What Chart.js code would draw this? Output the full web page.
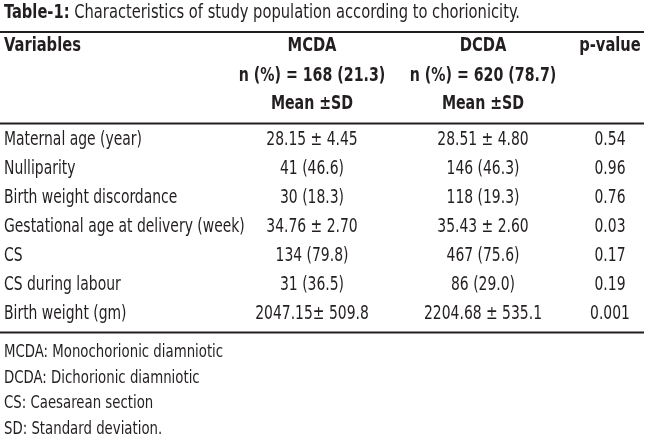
<!DOCTYPE html>
<html>
<head>
<meta charset="utf-8">
<script src="https://cdn.jsdelivr.net/npm/chart.js@4"></script>
<style>
  html, body { margin: 0; padding: 0; background: #fff; }
  #wrap { width: 650px; height: 443px; }
</style>
</head>
<body>
<div id="wrap"><canvas id="chart" width="650" height="443"></canvas></div>
<script>
"use strict"

// table content
const titleBold = "Table-1:";
const titleText = " Characteristics of study population according to chorionicity.";
const columnHeads = ["Variables", "MCDA", "DCDA", "p-value"];
const mcdaSub = ["n (%) = 168 (21.3)", "Mean \u00B1SD"];
const dcdaSub = ["n (%) = 620 (78.7)", "Mean \u00B1SD"];

const variables = [
    "Maternal age (year)",
    "Nulliparity",
    "Birth weight discordance",
    "Gestational age at delivery (week)",
    "CS",
    "CS during labour",
    "Birth weight (gm)"
];
const mcdaValues = ["28.15 \u00B1 4.45", "41 (46.6)", "30 (18.3)", "34.76 \u00B1 2.70", "134 (79.8)", "31 (36.5)", "2047.15\u00B1 509.8"];
const dcdaValues = ["28.51 \u00B1 4.80", "146 (46.3)", "118 (19.3)", "35.43 \u00B1 2.60", "467 (75.6)", "86 (29.0)", "2204.68 \u00B1 535.1"];
const pValues = ["0.54", "0.96", "0.76", "0.03", "0.17", "0.19", "0.001"];

const footnotes = [
    "MCDA: Monochorionic diamniotic",
    "DCDA: Dichorionic diamniotic",
    "CS: Caesarean section",
    "SD: Standard deviation."
];

// column anchors on the x scale (0..650)
const colX = { variables: 4, mcda: 312, dcda: 483, p: 610 };

const fontFamily = "'Liberation Sans Narrow', 'DejaVu Sans Condensed', 'Arial Narrow', sans-serif";
const ink = "#231f20";

function font(size, bold) {
    return (bold ? "bold " : "") + size + "px " + fontFamily;
}

// the reference face is narrower than anything installed, so squeeze it
function squeezeText(ctx, text, px, py, align, sx) {
    ctx.save();
    ctx.translate(px, py);
    ctx.scale(sx, 1);
    ctx.textAlign = align;
    ctx.fillText(text, 0, 0);
    ctx.restore();
    return ctx.measureText(text).width * sx;
}

const tablePlugin = {
    id: "tableText",
    afterDraw(chart) {
        const ctx = chart.ctx;
        const x = chart.scales.x;
        const y = chart.scales.y;
        const rowH = y.getPixelForValue(1) - y.getPixelForValue(0);
        const top = y.getPixelForValue(0) - rowH / 2;
        const bottom = y.getPixelForValue(variables.length - 1) + rowH / 2;
        const left = x.getPixelForValue(0);
        const right = x.getPixelForValue(644);
        const vx = x.getPixelForValue(colX.variables);

        ctx.save();
        ctx.fillStyle = ink;
        ctx.strokeStyle = ink;
        ctx.textBaseline = "middle";

        // title
        ctx.font = font(19, true);
        const w = squeezeText(ctx, titleBold, vx, 13, "left", 0.86);
        ctx.font = font(19, false);
        squeezeText(ctx, titleText, vx + w, 13, "left", 0.86);

        // rules
        ctx.lineWidth = 2;
        [32, top - 2, bottom + 4].forEach(function (ly) {
            ctx.beginPath();
            ctx.moveTo(left, ly);
            ctx.lineTo(right, ly);
            ctx.stroke();
        });

        // header
        ctx.font = font(19, true);
        squeezeText(ctx, columnHeads[0], vx, 46, "left", 0.86);
        squeezeText(ctx, columnHeads[1], x.getPixelForValue(colX.mcda), 46, "center", 0.86);
        squeezeText(ctx, columnHeads[2], x.getPixelForValue(colX.dcda), 46, "center", 0.86);
        squeezeText(ctx, columnHeads[3], x.getPixelForValue(colX.p), 46, "center", 0.86);
        for (let i = 0; i < mcdaSub.length; i++) {
            squeezeText(ctx, mcdaSub[i], x.getPixelForValue(colX.mcda), 76 + 28 * i, "center", 0.83);
            squeezeText(ctx, dcdaSub[i], x.getPixelForValue(colX.dcda), 76 + 28 * i, "center", 0.83);
        }

        // body rows
        ctx.font = font(19, false);
        for (let i = 0; i < variables.length; i++) {
            const py = y.getPixelForValue(i);
            squeezeText(ctx, variables[i], vx, py, "left", 0.815);
            squeezeText(ctx, mcdaValues[i], x.getPixelForValue(colX.mcda), py, "center", 0.815);
            squeezeText(ctx, dcdaValues[i], x.getPixelForValue(colX.dcda), py, "center", 0.815);
            squeezeText(ctx, pValues[i], x.getPixelForValue(colX.p), py, "center", 0.815);
        }

        // footnotes
        ctx.font = font(17, false);
        for (let i = 0; i < footnotes.length; i++) {
            squeezeText(ctx, footnotes[i], vx, bottom + 24 + 25.7 * i, "left", 0.87);
        }
        ctx.restore();
    }
};

const data = {
    labels: variables,
    datasets: []
};

const config = {
    type: "bar",
    data: data,
    options: {
        responsive: false,
        animation: false,
        indexAxis: "y",
        layout: { padding: { top: 125.5, bottom: 114.5, left: 0, right: 0 } },
        plugins: { legend: { display: false }, tooltip: { enabled: false } },
        scales: {
            x: { type: "linear", min: 0, max: 650, display: false },
            y: { type: "category", display: false, offset: true }
        }
    },
    plugins: [tablePlugin]
};

const tableChart = new Chart(document.getElementById("chart"), config);
</script>
</body>
</html>
